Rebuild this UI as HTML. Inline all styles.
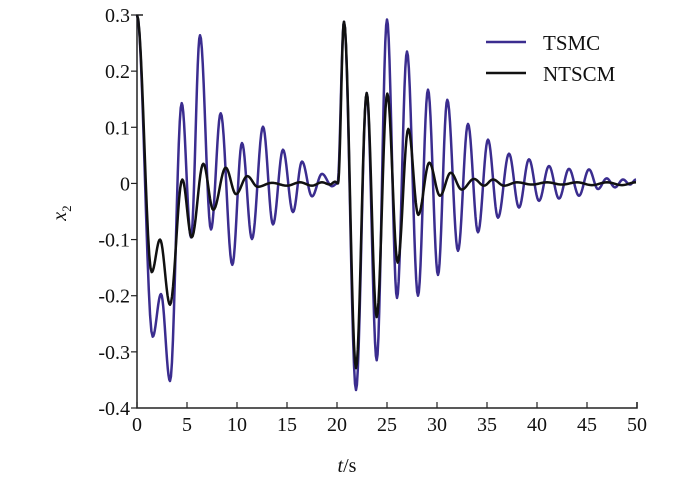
<!DOCTYPE html>
<html><head><meta charset="utf-8"><style>
html,body{margin:0;padding:0;background:#fff;}
svg{display:block;font-family:"Liberation Serif",serif;}
</style></head><body>
<svg id="chart" width="700" height="477" viewBox="0 0 700 477">
<g id="axes"></g>
<g id="series"></g>
<g>
 <line x1="486" y1="42" x2="526" y2="42" stroke="#3b2d8f" stroke-width="2.5"/>
 <text x="543" y="50" font-size="21" fill="#111">TSMC</text>
 <line x1="486" y1="73" x2="526" y2="73" stroke="#111" stroke-width="2.5"/>
 <text x="543" y="81" font-size="21" fill="#111">NTSCM</text>
</g>
<text x="347" y="472" font-size="20" text-anchor="middle" fill="#111"><tspan font-style="italic">t</tspan>/s</text>
<text transform="translate(66,213) rotate(-90)" font-size="20" text-anchor="middle" fill="#111"><tspan font-style="italic">x</tspan><tspan font-size="13" dy="5">2</tspan></text>
</svg>
<script>
const xTicks = [0,5,10,15,20,25,30,35,40,45,50];
const yTicks = [0.3,0.2,0.1,0,-0.1,-0.2,-0.3,-0.4];
const yTickLabels = ["0.3","0.2","0.1","0","-0.1","-0.2","-0.3","-0.4"];
// extrema of each series: times and values
const tsmcT = [0,1.57,2.4,3.3,4.47,5.4,6.3,7.4,8.37,9.53,10.5,11.5,12.6,13.6,14.6,15.6,16.5,17.5,18.5,19.5,20.05,20.7,21.9,22.97,23.97,25.0,26.0,27.0,28.1,29.1,30.1,31.03,32.1,33.1,34.1,35.1,36.1,37.2,38.2,39.2,40.2,41.2,42.2,43.2,44.2,45.2,46.1,46.97,47.8,48.6,49.3,49.9];
const tsmcV = [0.3,-0.273,-0.197,-0.352,0.143,-0.096,0.264,-0.082,0.125,-0.145,0.072,-0.099,0.101,-0.073,0.06,-0.051,0.039,-0.023,0.017,-0.005,0,0.288,-0.368,0.161,-0.315,0.292,-0.204,0.235,-0.2,0.167,-0.163,0.149,-0.12,0.106,-0.087,0.078,-0.061,0.053,-0.043,0.043,-0.031,0.031,-0.027,0.026,-0.022,0.025,-0.01,0.009,-0.007,0.007,-0.002,0.007];
const ntscmT = [0,1.47,2.3,3.3,4.53,5.47,6.63,7.63,8.87,9.9,11.03,12.07,13.5,15,16.3,17.5,18.5,19.3,19.8,20.1,20.7,21.9,22.97,23.97,25.03,26.07,27.13,28.13,29.23,30.3,31.37,32.47,33.7,34.7,35.6,36.7,38,39.5,41,42.5,44,45.5,47,48.5,49.9];
const ntscmV = [0.3,-0.158,-0.1,-0.216,0.007,-0.096,0.035,-0.047,0.028,-0.019,0.013,-0.006,0.001,-0.004,0.002,-0.004,0.002,-0.002,0.003,0,0.288,-0.329,0.161,-0.238,0.16,-0.141,0.097,-0.056,0.037,-0.022,0.019,-0.011,0.008,-0.004,0.007,-0.004,0.002,-0.002,0.002,-0.002,0.002,-0.003,0.002,-0.003,0.002];

const NS='http://www.w3.org/2000/svg';
const X0=137,X1=637,Y0=15,Y1=408;
function xs(t){return X0+(t-0)/(50-0)*(X1-X0);}
function ys(v){return Y1-(v-(-0.4))/(0.3-(-0.4))*(Y1-Y0);}
const axes=document.getElementById('axes');
function mk(tag,attrs,parent){const e=document.createElementNS(NS,tag);for(const k in attrs)e.setAttribute(k,attrs[k]);parent.appendChild(e);return e;}
let e;
e=mk('path',{d:`M${X0+6},${Y0}H${X0}V${Y1}H${X1}V${Y1-6}`,fill:'none',stroke:'#222','stroke-width':1.5},axes);


xTicks.forEach(t=>{
 const l=mk('line',{x1:xs(t),x2:xs(t),y1:Y1,y2:Y1-6,stroke:'#222','stroke-width':1.2},axes);
 
 
 const tx=mk('text',{x:xs(t),y:Y1+23,'font-size':20,'text-anchor':'middle',fill:'#111'},axes);
 tx.textContent=String(t);
 
 
});
yTicks.forEach((v,i)=>{
 const l=mk('line',{x1:X0,x2:X0-6,y1:ys(v),y2:ys(v),stroke:'#222','stroke-width':1.2},axes);
 
 
 const tx=mk('text',{x:X0-7,y:ys(v)+7,'font-size':20,'text-anchor':'end',fill:'#111'},axes);
 tx.textContent=yTickLabels[i];
 
 
});
function pathFrom(T,V){
 let d=`M${xs(T[0]).toFixed(2)},${ys(V[0]).toFixed(2)}`;
 for(let i=0;i<T.length-1;i++){
  const n=12;
  for(let k=1;k<=n;k++){
   const f=k/n, w=(1-Math.cos(Math.PI*f))/2;
   const t=T[i]+(T[i+1]-T[i])*f, v=V[i]+(V[i+1]-V[i])*w;
   d+=`L${xs(t).toFixed(2)},${ys(v).toFixed(2)}`;
  }
 }
 return d;
}
const g=document.getElementById('series');
e=mk('path',{d:pathFrom(tsmcT,tsmcV),fill:'none',stroke:'#3b2d8f','stroke-width':2.5,'stroke-linejoin':'round'},g);


e=mk('path',{d:pathFrom(ntscmT,ntscmV),fill:'none',stroke:'#111','stroke-width':2.5,'stroke-linejoin':'round'},g);


</script>
</body></html>
